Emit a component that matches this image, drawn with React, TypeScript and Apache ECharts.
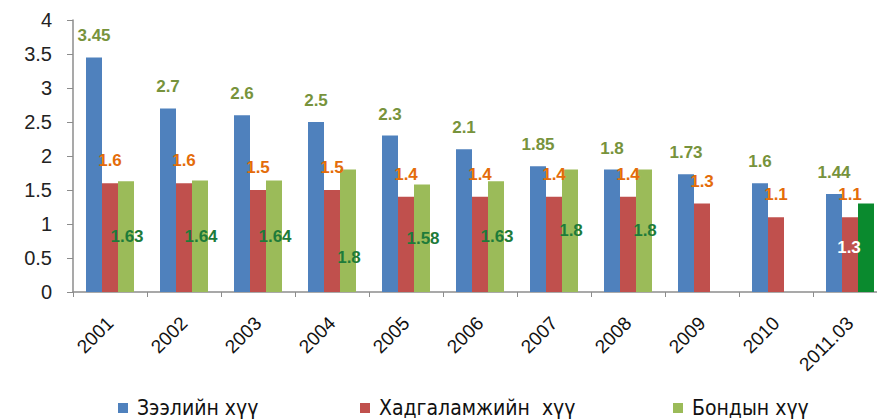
import React, { useEffect, useRef } from "react";
import * as echarts from "echarts";

const categories = ["2001", "2002", "2003", "2004", "2005", "2006", "2007", "2008", "2009", "2010", "2011.03"];
const loanRates = [3.45, 2.7, 2.6, 2.5, 2.3, 2.1, 1.85, 1.8, 1.73, 1.6, 1.44];
const savingRates = [1.6, 1.6, 1.5, 1.5, 1.4, 1.4, 1.4, 1.4, 1.3, 1.1, 1.1];
const bondRates: (number | null)[] = [1.63, 1.64, 1.64, 1.8, 1.58, 1.63, 1.8, 1.8, null, null, 1.3];
const yTicks = [0, 0.5, 1, 1.5, 2, 2.5, 3, 3.5, 4];
const seriesNames = ["Зээлийн хүү", "Хадгаламжийн  хүү", "Бондын хүү"];
const seriesColors = ["#4F81BD", "#C0504D", "#9BBB59"];

export default function App() {
  const ref = useRef<HTMLDivElement>(null);
  useEffect(() => {
    if (!ref.current) return;
    const chart = echarts.init(ref.current, null, { renderer: "svg" });
    const font = "Liberation Sans, Arial, sans-serif";
    const bondData = bondRates.map((v, i) => {
      if (v === null) return null;
      if (i === categories.length - 1) {
        return { value: v, itemStyle: { color: "#0A8A2E" }, label: { color: "#FFFFFF", offset: [-17, 0] } };
      }
      if (i === 3) {
        return { value: v, label: { offset: [1, 27] } };
      }
      return v;
    });
    const legendLefts = [113, 355, 668];
    chart.setOption({
      animation: false,
      backgroundColor: "#FFFFFF",
      textStyle: { fontFamily: font },
      grid: { left: 73, top: 20, width: 814, bottom: 127, containLabel: false, outerBoundsMode: "none" },
      legend: seriesNames.map((n, i) => ({
        top: 392,
        left: legendLefts[i],
        itemWidth: 10,
        itemHeight: 10,
        icon: "rect",
        textStyle: {
          fontSize: 21,
          lineHeight: 22,
          color: "#111",
          fontFamily: "DejaVu Sans Condensed, Liberation Sans Narrow, sans-serif",
          padding: [0, 0, 0, 4],
        },
        data: [n],
      })),
      xAxis: {
        type: "category",
        data: categories,
        axisLine: { lineStyle: { color: "#8C8C8C", width: 1.5 } },
        axisTick: { show: true, length: 5, lineStyle: { color: "#8C8C8C" } },
        axisLabel: { rotate: 45, fontSize: 19, color: "#111", margin: 28, interval: 0 },
      },
      yAxis: {
        type: "value",
        min: yTicks[0],
        max: yTicks[yTicks.length - 1],
        interval: 0.5,
        splitLine: { show: false },
        axisLine: { show: true, lineStyle: { color: "#8C8C8C", width: 1.5 } },
        axisTick: { show: true, length: 6, lineStyle: { color: "#8C8C8C" } },
        axisLabel: { fontSize: 20, color: "#222", margin: 21 },
      },
      series: [
        {
          name: seriesNames[0],
          type: "bar",
          data: loanRates,
          barWidth: 16,
          barGap: "0%",
          itemStyle: { color: seriesColors[0] },
          label: { show: true, position: "top", distance: 13, color: "#77933C", fontSize: 17, fontWeight: "bold" },
        },
        {
          name: seriesNames[1],
          type: "bar",
          data: savingRates,
          barWidth: 16,
          barGap: "0%",
          itemStyle: { color: seriesColors[1] },
          label: { show: true, position: "top", distance: 14, color: "#E46C0A", fontSize: 17, fontWeight: "bold" },
        },
        {
          name: seriesNames[2],
          type: "bar",
          data: bondData,
          barWidth: 16,
          barGap: "0%",
          itemStyle: { color: seriesColors[2] },
          label: { show: true, position: "inside", color: "#1E7B3A", fontSize: 17, fontWeight: "bold", offset: [1, 0] },
        },
      ],
    });
    return () => chart.dispose();
  }, []);
  return <div ref={ref} style={{ width: 877, height: 419, position: "absolute", left: 0, top: 0 }} />;
}
